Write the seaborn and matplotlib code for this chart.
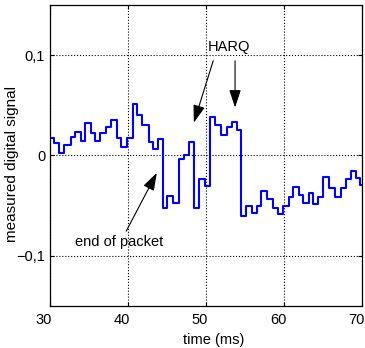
import matplotlib
matplotlib.use("Agg")
import matplotlib.pyplot as plt
import matplotlib.transforms as mtransforms
import seaborn as sns
import pandas as pd

# step start times (ms) and signal levels
t_start = [30.0, 30.51, 31.15, 31.79, 32.69, 33.21, 33.97, 34.49, 35.26, 35.77,
           36.41, 37.18, 37.82, 38.59, 39.10, 39.87, 40.64, 41.15, 41.79, 42.69,
           43.21, 43.85, 44.49, 45.00, 45.77, 46.54, 47.18, 47.82, 48.46, 49.10,
           49.87, 50.51, 51.15, 51.92, 52.69, 53.33, 53.97, 54.49, 55.13, 55.90,
           56.54, 57.05, 57.82, 58.59, 59.23, 59.87, 60.64, 61.15, 61.92, 62.44,
           63.21, 63.72, 64.36, 65.00, 65.77, 66.54, 67.31, 67.95, 68.59, 69.23,
           69.74, 70.0]
levels = [0.017, 0.012, 0.002, 0.010, 0.018, 0.023, 0.014, 0.032, 0.022, 0.014,
          0.022, 0.028, 0.035, 0.017, 0.008, 0.017, 0.051, 0.040, 0.030, 0.013,
          0.006, 0.016, -0.052, -0.040, -0.047, -0.004, 0.000, 0.013, -0.052, -0.024,
          -0.031, 0.038, 0.030, 0.020, 0.028, 0.033, 0.025, -0.060, -0.050, -0.057,
          -0.050, -0.035, -0.043, -0.052, -0.058, -0.050, -0.041, -0.032, -0.039, -0.047,
          -0.037, -0.048, -0.041, -0.022, -0.033, -0.041, -0.033, -0.024, -0.016, -0.023,
          -0.030, -0.030]

x_ticks = [30, 40, 50, 60, 70]
y_ticks = [-0.1, 0, 0.1]
y_labels = ["\u22120,1", "0", "0,1"]

df = pd.DataFrame({"time": t_start, "signal": levels})

sns.set_style("ticks")
plt.rcParams["font.family"] = ["Liberation Sans", "DejaVu Sans"]
plt.rcParams["text.color"] = "black"
plt.rcParams["axes.labelcolor"] = "black"
plt.rcParams["xtick.color"] = "black"
plt.rcParams["ytick.color"] = "black"
fs = 10.5

fig = plt.figure(figsize=(3.65, 3.48), dpi=100)
ax = fig.add_axes([0.137, 0.121, 0.855, 0.865])

sns.lineplot(data=df, x="time", y="signal", ax=ax, color="#0000ff",
             linewidth=1.5, drawstyle="steps-post", estimator=None)

ax.set_xlim(30, 70)
ax.set_ylim(-0.15, 0.15)
ax.set_xticks(x_ticks)
ax.set_yticks(y_ticks)
ax.set_yticklabels(y_labels)
ax.tick_params(direction="in", top=True, right=True, labelsize=fs, length=3,
               colors="black")
ax.tick_params(axis="x", pad=5)
ax.grid(True, linestyle=":", color="black", linewidth=0.8)
for s in ax.spines.values():
    s.set_linewidth(0.9)
    s.set_color("black")

# x tick labels sit a little left of their ticks in the original
shift = mtransforms.ScaledTranslation(-0.06, 0, fig.dpi_scale_trans)
for lab in ax.get_xticklabels():
    lab.set_transform(lab.get_transform() + shift)

ax.set_xlabel("time (ms)", fontsize=fs, labelpad=1, color="black")
ax.xaxis.set_label_coords(0.525, -0.09)
ax.set_ylabel("measured digital signal", fontsize=11, color="black")
ax.yaxis.set_label_coords(-0.1, 0.47)

arrow = dict(arrowstyle="-|>,head_length=0.6,head_width=0.2", color="black",
             lw=0.8, mutation_scale=18)
ax.annotate("", xy=(43.85, -0.015), xytext=(39.6, -0.078), arrowprops=arrow)
ax.text(38.8, -0.086, "end of packet", fontsize=fs, ha="center", va="center")

ax.text(52.95, 0.108, "HARQ", fontsize=fs, ha="center", va="center")
ax.annotate("", xy=(48.33, 0.030), xytext=(51.03, 0.097), arrowprops=arrow)
ax.annotate("", xy=(53.72, 0.045), xytext=(53.72, 0.097), arrowprops=arrow)

fig.savefig("out.png", dpi=100)
